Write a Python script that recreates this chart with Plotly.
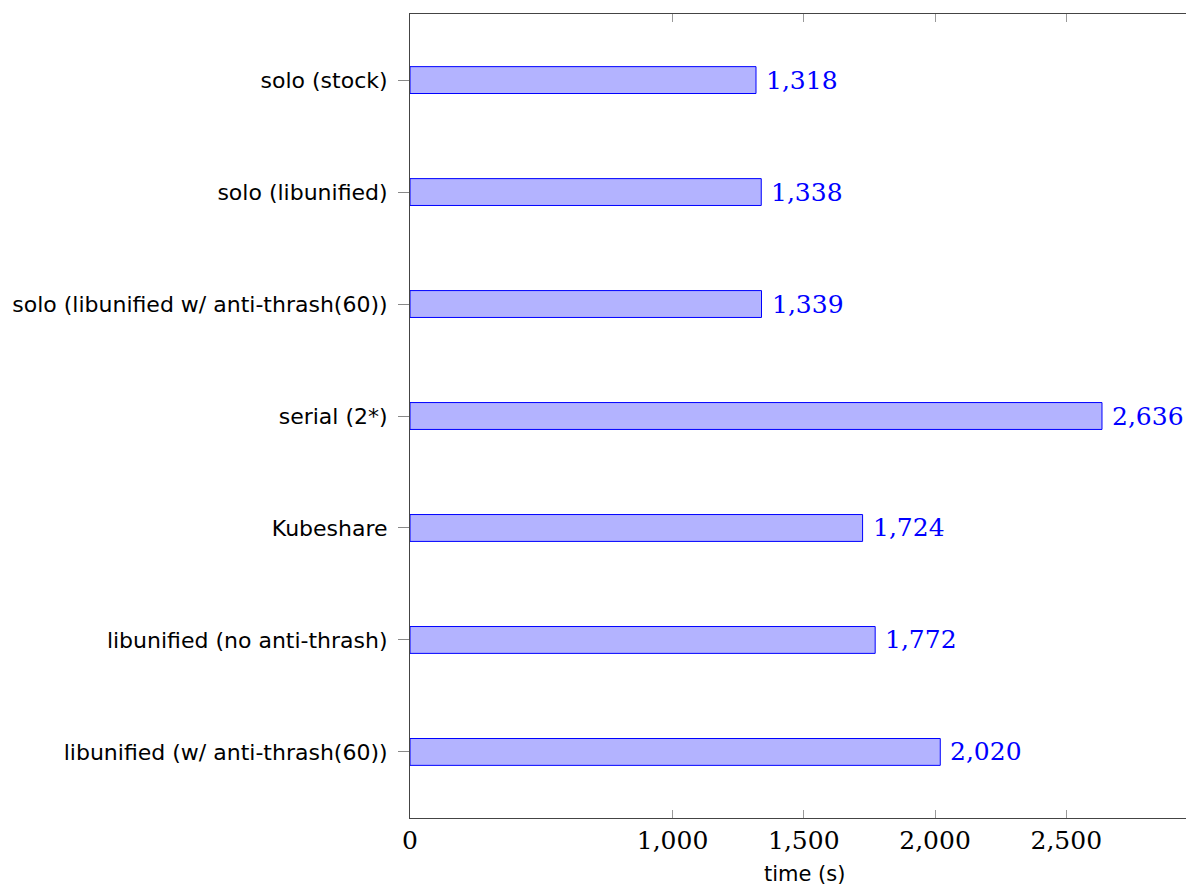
import plotly.graph_objects as go

# Benchmark configurations, top to bottom
categories = [
    "solo (stock)",
    "solo (libunified)",
    "solo (libunified w/ anti-thrash(60))",
    "serial (2*)",
    "Kubeshare",
    "libunified (no anti-thrash)",
    "libunified (w/ anti-thrash(60))",
]
times = [1318, 1338, 1339, 2636, 1724, 1772, 2020]

x_tickvals = [0, 1000, 1500, 2000, 2500]
x_ticktext = ["0", "1,000", "1,500", "2,000", "2,500"]

SERIF = "DejaVu Serif, Liberation Serif, serif"
SANS = "DejaVu Sans, Noto Sans, sans-serif"

fig = go.Figure(
    go.Bar(
        y=categories,
        x=times,
        orientation="h",
        width=0.24,
        marker=dict(color="#b3b3ff", line=dict(color="#0000ff", width=1)),
        hoverinfo="skip",
    )
)

# value labels just to the right of each bar
for cat, t in zip(categories, times):
    fig.add_annotation(
        x=t, y=cat, xref="x", yref="y",
        text=f"{t:,}",
        showarrow=False, xanchor="left", yanchor="middle",
        xshift=8,
        font=dict(family=SERIF, size=25, color="#0000ff"),
    )

fig.add_annotation(
    x=0.508, y=0, xref="paper", yref="paper",
    text="time (s)", showarrow=False,
    xanchor="center", yanchor="top", yshift=-42,
    font=dict(family=SANS, size=21, color="#000000"),
)

fig.update_xaxes(
    range=[0, 2956],
    tickvals=x_tickvals,
    ticktext=x_ticktext,
    ticks="inside",
    ticklen=8,
    tickcolor="#999999",
    showline=True,
    linecolor="#444444",
    linewidth=1,
    mirror="ticks",
    showgrid=False,
    zeroline=False,
    tickfont=dict(family=SERIF, size=25, color="#000000"),
)
fig.update_yaxes(
    categoryorder="array",
    categoryarray=categories,
    range=[6.59, -0.59],
    ticks="outside",
    ticklen=11,
    tickcolor="#888888",
    ticklabelstandoff=6,
    showline=True,
    linecolor="#444444",
    linewidth=1,
    showgrid=False,
    zeroline=False,
    tickfont=dict(family=SANS, size=22, color="#000000"),
)

fig.update_layout(
    width=1186,
    height=887,
    margin=dict(l=410, r=0, t=14, b=69),
    plot_bgcolor="white",
    paper_bgcolor="white",
    showlegend=False,
)

fig.write_html("out.html")
